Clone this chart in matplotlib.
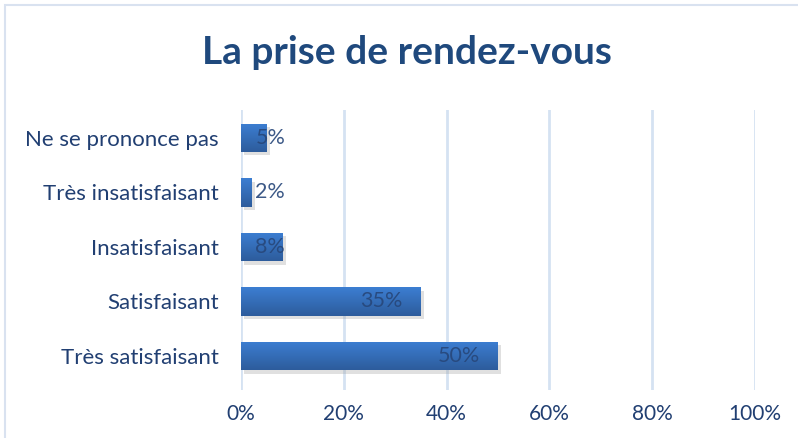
import numpy as np
import matplotlib
matplotlib.use("Agg")
import matplotlib.pyplot as plt
import matplotlib.patheffects as pe
from matplotlib.patches import Rectangle

plt.rcParams['font.family'] = ['Lato', 'DejaVu Sans']

# data
categories = ["Très satisfaisant", "Satisfaisant", "Insatisfaisant",
              "Très insatisfaisant", "Ne se prononce pas"]
values = [50, 35, 8, 2, 5]
xticks = [0, 20, 40, 60, 80, 100]
title = "La prise de rendez-vous"

navy = "#213F72"
grid_c = "#D5E2F2"

fig = plt.figure(figsize=(7.98, 4.38), dpi=100)
ax = fig.add_axes([0.302, 0.11, 0.644, 0.639])

# outer chart border
fig.patches.append(Rectangle((0.006, -0.05), 1.1, 1.039, transform=fig.transFigure,
                             fill=False, edgecolor="#D9E2F0", lw=1.5))

y = np.arange(len(categories))
h = 0.52
grad = np.linspace(0, 1, 64).reshape(-1, 1)
cmap = matplotlib.colors.LinearSegmentedColormap.from_list("bar", ["#2D5C9C", "#3C7ED2"])

for yi, v in zip(y, values):
    r = ax.barh(yi, v, height=h, color="#3571BC", zorder=3,
                path_effects=[pe.SimplePatchShadow(offset=(2.5, -2.5), shadow_rgbFace="#999999", alpha=0.3),
                              pe.Normal()])[0]
    im = ax.imshow(grad, extent=(0, v, yi - h / 2, yi + h / 2), origin="lower",
                   cmap=cmap, aspect="auto", zorder=4)
    im.set_clip_path(r)
    ax.text(max(v - 3.5, 8.6), yi, f"{v}%", ha="right", va="center",
            fontsize=15.5, color="#27477A", alpha=0.9, zorder=5)

ax.set_xlim(0, 100)
ax.set_ylim(-0.62, 4.51)
ax.set_xticks(xticks)
ax.set_xticklabels([f"{t}%" for t in xticks])
ax.set_yticks(y)
ax.set_yticklabels(categories)
ax.tick_params(axis="both", length=0, labelcolor=navy)
ax.tick_params(axis="x", pad=10, labelsize=15)
ax.tick_params(axis="y", pad=16, labelsize=16)
ax.xaxis.grid(True, color=grid_c, lw=2, zorder=0)
ax.set_axisbelow(True)
for s in ax.spines.values():
    s.set_visible(False)

fig.text(0.51, 0.88, title, ha="center", va="center", fontsize=28,
         fontweight="bold", color="#1F497D")

fig.savefig("out.png", dpi=100)
